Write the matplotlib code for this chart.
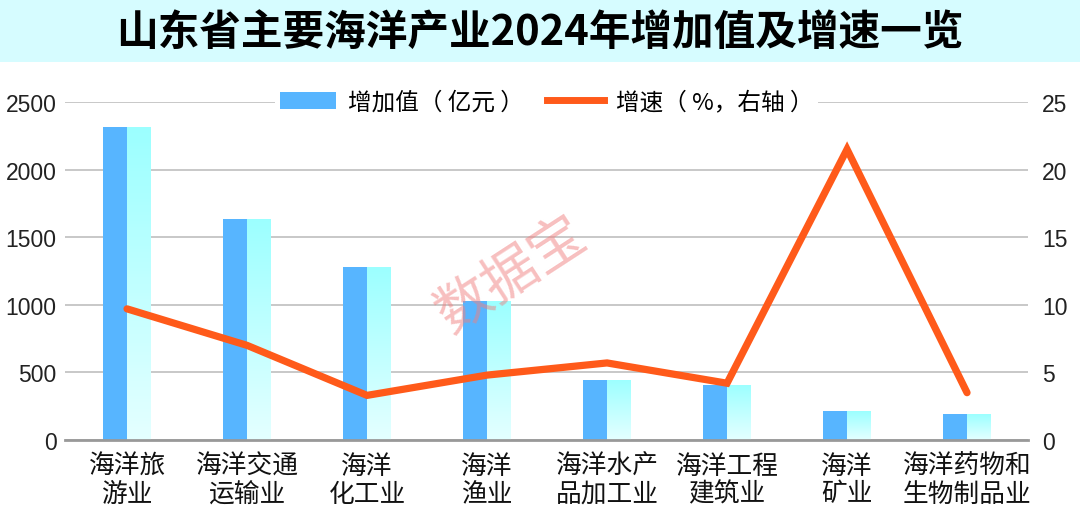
import numpy as np
import matplotlib
matplotlib.use("Agg")
import matplotlib.pyplot as plt
from matplotlib.patches import Rectangle
from matplotlib.lines import Line2D
from matplotlib.colors import LinearSegmentedColormap

plt.rcParams['font.family'] = ['Noto Sans CJK SC', 'DejaVu Sans']

title = "山东省主要海洋产业2024年增加值及增速一览"
categories = ["海洋旅\n游业", "海洋交通\n运输业", "海洋\n化工业", "海洋\n渔业",
              "海洋水产\n品加工业", "海洋工程\n建筑业", "海洋\n矿业", "海洋药物和\n生物制品业"]
added_value = [2315, 1635, 1280, 1025, 444, 407, 214, 192]   # 亿元
growth = [9.7, 7.0, 3.3, 4.8, 5.7, 4.2, 21.5, 3.5]           # %
left_ticks = [0, 500, 1000, 1500, 2000, 2500]
right_ticks = [0, 5, 10, 15, 20, 25]

dark_blue = "#57B5FF"
line_color = "#FF5A1A"
half_w = 0.2

fig = plt.figure(figsize=(10.8, 5.1), dpi=100)
fig.patches.append(Rectangle((0, 1 - 63 / 510), 1, 63 / 510, transform=fig.transFigure,
                             facecolor="#D6FCFF", edgecolor="none", zorder=0))
fig.text(0.5, 1 - 33 / 510, title, ha="center", va="center", fontsize=30,
         fontweight="bold", color="black")

ax = fig.add_axes([65 / 1080, 1 - 441 / 510, 963 / 1080, 338 / 510])
x = np.arange(len(categories))

ax.bar(x - half_w / 2, added_value, width=half_w, color=dark_blue, zorder=2)
grad_cmap = LinearSegmentedColormap.from_list("g", ["#E4FFFF", "#9CFFFF"])
grad = np.linspace(0, 1, 100).reshape(-1, 1)
light = ax.bar(x + half_w / 2, added_value, width=half_w, color="none", zorder=2)
for rect in light:
    bx, by = rect.get_x(), rect.get_y()
    bw, bh = rect.get_width(), rect.get_height()
    im = ax.imshow(grad, cmap=grad_cmap, origin="lower", aspect="auto",
                   extent=(bx, bx + bw, by, by + bh), zorder=2)
    im.set_clip_path(rect)

ax.set_xlim(-0.517, 7.508)
ax.set_ylim(0, 2500)
ax.set_yticks(left_ticks)
ax.set_yticklabels([str(t) for t in left_ticks], fontsize=16.5, color="#222222",
                   family="Liberation Sans")
ax.set_xticks(x)
ax.set_xticklabels(categories, fontsize=18.5, color="#111111", linespacing=1.1)
ax.tick_params(axis="both", length=0)
ax.tick_params(axis="y", pad=6)
ax.tick_params(axis="x", pad=9)
ax.grid(axis="y", color="#C4C4C4", linewidth=1.3, zorder=0)
ax.set_axisbelow(True)
for s in ["top", "right", "left"]:
    ax.spines[s].set_visible(False)
ax.spines["bottom"].set_color("#999999")
ax.spines["bottom"].set_linewidth(2)
ax.set_facecolor("none")

ax2 = ax.twinx()
ax2.plot(x, growth, color=line_color, linewidth=5.2, solid_capstyle="round",
         solid_joinstyle="miter", zorder=3)
ax2.set_ylim(0, 25)
ax2.set_yticks(right_ticks)
ax2.set_yticklabels([str(t) for t in right_ticks], fontsize=16.5, color="#222222",
                    family="Liberation Sans")
ax2.tick_params(axis="y", length=0, pad=10)
for s in ax2.spines.values():
    s.set_visible(False)

handles = [Rectangle((0, 0), 1, 1, facecolor=dark_blue),
           Line2D([0], [0], color=line_color, linewidth=5)]
leg = ax2.legend(handles, ["增加值（ 亿元 ）", "增速（ %，右轴 ）"], loc="center",
                 bbox_to_anchor=(0.5, 1.0), ncol=2, frameon=True, fontsize=17,
                 handlelength=2.4, handleheight=0.75, columnspacing=1.0,
                 borderpad=0.2, handletextpad=0.5)
leg.get_frame().set_facecolor("white")
leg.get_frame().set_edgecolor("none")
leg.get_frame().set_alpha(1)

fig.text(512 / 1080, 1 - 275 / 510, "数据宝", fontsize=40, color="#F08080", alpha=0.5,
         rotation=33, ha="center", va="center")

fig.savefig("out.png", dpi=100)
